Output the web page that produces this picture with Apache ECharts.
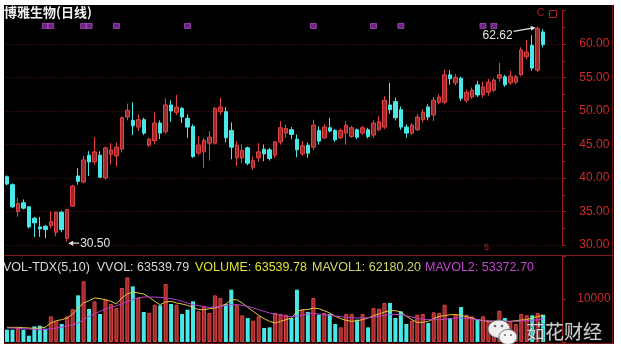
<!DOCTYPE html>
<html><head><meta charset="utf-8">
<script src="https://cdn.jsdelivr.net/npm/echarts@6/dist/echarts.min.js"></script>
<style>html,body{margin:0;padding:0;background:#fff}#c{width:621px;height:349px}</style>
</head><body><div id="c"></div>
<script>
// ---------- DATA ----------
const opens = [40.2,39.0,35.0,36.3,35.7,34.0,32.7,32.8,32.9,31.9,
34.9,31.0,35.8,40.3,39.4,43.4,42.4,43.4,40.0,43.5,
43.3,44.3,49.1,48.6,47.6,48.7,44.9,45.6,48.2,46.9,
50.9,49.8,50.4,48.9,47.7,43.7,43.9,45.2,45.2,49.9,
49.9,47.1,43.0,43.0,44.5,41.6,43.0,44.3,44.2,43.4,
45.4,46.7,47.2,45.8,43.6,44.9,44.6,47.1,46.0,47.5,
47.1,46.0,46.7,46.2,47.2,46.7,47.2,46.4,47.2,47.6,
50.9,51.4,50.2,47.6,46.7,47.2,48.7,50.6,49.4,51.3,
51.3,55.4,54.2,54.9,51.6,52.1,53.9,52.4,52.8,53.1,
54.9,55.1,54.2,54.3,55.4,58.1,59.8,56.1,61.8];
const closes = [39.1,35.7,36.2,35.5,32.7,33.3,32.4,32.3,33.5,34.9,
32.3,35.3,38.8,39.5,42.7,42.4,43.9,40.1,44.5,44.2,
44.6,49.0,50.1,47.8,48.7,46.7,45.8,48.2,46.7,50.9,
50.0,50.6,49.1,47.6,43.2,44.9,45.6,46.1,50.4,50.6,
46.0,44.6,44.9,44.1,42.2,42.6,43.9,43.6,42.9,45.4,
47.5,47.4,46.5,44.2,44.8,43.7,47.9,45.5,47.6,47.0,
45.7,47.1,47.9,47.5,46.1,47.5,46.2,48.2,48.4,51.6,
50.2,49.0,47.6,46.7,47.9,49.1,49.8,49.1,51.6,52.1,
55.4,54.8,55.0,51.9,52.8,53.1,52.4,53.6,54.3,54.6,
55.4,53.9,55.2,55.1,59.1,58.8,56.4,62.3,59.9];
const lows = [38.9,35.5,34.2,35.3,32.5,31.2,31.2,31.0,32.5,31.3,
31.9,30.5,35.7,39.0,39.2,40.3,42.0,40.0,39.8,42.0,
41.7,43.8,48.6,46.4,47.0,46.4,44.6,45.0,45.8,46.6,
48.4,49.4,48.2,46.0,43.0,43.4,41.5,42.6,45.0,49.4,
45.3,42.8,41.8,42.2,41.9,41.2,42.4,42.5,42.6,43.0,
45.0,46.0,45.8,43.1,43.3,43.0,44.2,45.0,45.8,46.8,
45.4,45.8,45.0,46.0,45.8,46.4,45.9,46.0,47.0,47.3,
49.6,48.6,47.2,46.0,46.4,47.0,48.3,48.6,48.5,51.0,
51.0,53.9,53.8,51.5,51.2,51.8,52.1,52.0,52.3,52.8,
54.4,53.6,53.9,54.0,55.2,57.7,56.0,55.8,59.5];
const highs = [40.4,39.2,37.0,36.8,35.8,34.2,34.2,33.0,35.0,35.0,
35.1,35.3,39.0,41.5,43.3,44.0,46.1,44.0,44.7,45.2,
45.3,49.2,51.1,51.3,49.5,49.0,46.0,49.8,48.6,51.9,
51.6,52.4,50.6,49.5,48.0,46.2,46.0,47.0,50.6,52.0,
50.6,48.3,45.5,45.0,44.7,43.2,45.2,45.0,44.5,45.5,
48.5,48.0,47.6,46.5,45.5,45.3,48.7,47.7,48.0,49.0,
47.3,47.4,48.5,47.8,47.4,47.8,47.5,48.6,49.3,52.2,
54.2,52.0,50.7,48.0,48.2,49.6,50.3,51.0,52.1,52.5,
56.2,56.1,55.5,55.1,53.2,53.5,54.5,54.4,54.8,54.9,
57.2,55.4,56.0,55.4,59.5,60.6,61.3,62.62,62.2];
const volumes = [2870,2870,3255,2870,1470,3640,3800,3100,5970,4805,
4185,5970,7670,10850,14100,7670,9455,6510,9840,8835,
7900,12555,15035,12940,10385,6975,6740,8680,8525,13485,
8835,8680,6510,7520,9455,7130,8290,6740,10850,10230,
8835,12170,8680,6200,5580,4960,5970,3255,3410,6740,
6510,6355,5580,12170,7520,7000,10230,6355,6740,6510,
4185,3410,6510,6510,5190,6510,3410,7900,7750,9070,
9070,5580,7130,4185,4960,6355,6510,4420,6900,6740,
8680,5580,6510,8140,6355,5970,5190,5970,4805,4420,
7285,5580,4805,4185,6510,6200,6200,6740,6354];
const mavol1 = [3410,3410,3410,3330,3255,3180,3255,3410,4420,4960,
5190,5580,6510,7900,9070,9610,10230,10075,9840,9455,
8835,10230,11160,11625,11390,11160,10385,9455,8680,9300,
9455,9070,8835,8525,8060,7520,7520,7750,7900,8290,
8835,9840,9840,9070,8060,7130,6200,5425,4805,4420,
4805,5190,5580,7130,7520,
7520,7900,7750,7285,6740,5970,5425,5040,4805,4960,
5190,5580,6120,6510,6975,7285,7285,6975,5970,5190,
4570,4570,4805,5425,5970,6120,6355,6355,6200,5890,
5580,5190,4960,4805,4805,4805,4805,4805,4960,5115,
5190,5600,5900,6218];
const mavol2 = [3255,3255,3180,3100,3020,2945,2870,2870,3100,3255,
3410,3800,4030,4420,5190,5970,6510,7130,7670,8060,
8450,8835,9455,9840,10230,10460,10460,10460,10385,10230,
10075,9840,9455,9070,8680,8450,8215,8060,8140,8290,
8525,8680,8680,8525,8290,7900,7520,7130,6740,6510,
6200,5970,5890,6045,6200,
6510,6665,6510,6355,6200,6045,5890,5735,5660,5580,
5580,5660,5815,5970,6200,6355,6430,6355,6120,5815,
5500,5270,5190,5190,5190,5270,5425,5580,5580,5500,
5350,5190,5040,4960,4880,4805,4805,4805,4805,4880,
4960,5040,5190,5337];
const signalDays = [7,8,14,15,20,33,56,67,72,87,89];
const priceTicks = [30,35,40,45,50,55,60];
const volTicks = [10000];
const days = opens.map((_, i) => 'D' + (i + 1));
const highIdx = 97, highVal = 62.62;
const lowIdx = 11, lowVal = 30.50;

// ---------- STYLE ----------
const RED = '#e04444', RED_FILL = '#9c2a2a', CYAN = '#48e8e8';
const AXIS = '#a01c1c', LBL = '#cc2a2a';
const chart = echarts.init(document.getElementById('c'), null, {renderer:'canvas', width:621, height:349});
const candleData = opens.map((o, i) => [o, closes[i], lows[i], highs[i]]);
const volData = volumes.map((v, i) => ({
  value: v,
  itemStyle: closes[i] >= opens[i] ? {color: RED_FILL, borderColor: RED, borderWidth: 1} : {color: CYAN, borderColor: CYAN, borderWidth: 0}
}));
const signalLevel = 62.7;
const axisCommon = (gi) => ({type:'category', data: days, gridIndex: gi, max: days.length + 2, boundaryGap: true, show: false});

chart.setOption({
  animation: false,
  backgroundColor: '#000000',
  grid: [
    {left: 4.27, top: 10.5, width: 558, height: 234.5},
    {left: 4.27, top: 256, width: 558, height: 86}
  ],
  xAxis: [axisCommon(0), axisCommon(1)],
  yAxis: [
    {gridIndex: 0, position: 'right', min: 30, max: 65, interval: 5, scale: true,
     axisLine: {show: true, lineStyle: {color: AXIS, width: 1}},
     axisTick: {show: true, length: 4, lineStyle: {color: AXIS}},
     minorTick: {show: true, splitNumber: 2, length: 3, lineStyle: {color: AXIS}},
     axisLabel: {margin: 17, color: LBL, fontSize: 12, fontFamily: 'Liberation Sans, Arial',
       formatter: v => priceTicks.indexOf(v) >= 0 ? v.toFixed(2) : ''},
     splitLine: {show: true, showMaxLine: false, lineStyle: {color: '#5a1616', type: [1, 2], width: 1}}
    },
    {gridIndex: 1, position: 'right', min: 0, max: 20000, interval: 10000,
     axisLine: {show: true, lineStyle: {color: AXIS, width: 1}},
     axisTick: {show: true, length: 4, lineStyle: {color: AXIS}},
     axisLabel: {margin: 15, color: LBL, fontSize: 12, fontFamily: 'Liberation Sans, Arial',
       formatter: v => volTicks.indexOf(v) >= 0 ? String(v) : ''},
     splitLine: {show: false}
    }
  ],
  series: [
    {type: 'candlestick', xAxisIndex: 0, yAxisIndex: 0, data: candleData, barWidth: 4,
     itemStyle: {color: RED_FILL, color0: CYAN, borderColor: RED, borderColor0: CYAN, borderWidth: 1}},
    {type: 'scatter', xAxisIndex: 0, yAxisIndex: 0, symbol: 'rect', symbolSize: [6, 5],
     data: signalDays.map(d => [d, signalLevel]),
     itemStyle: {color: '#8a2aa6', borderColor: '#c060d8', borderWidth: 0.8}},
    {type: 'bar', xAxisIndex: 1, yAxisIndex: 1, data: volData, barWidth: 4},
    {type: 'line', xAxisIndex: 1, yAxisIndex: 1, data: mavol1, showSymbol: false, symbol: 'none',
     lineStyle: {color: '#e6c83c', width: 1}},
    {type: 'line', xAxisIndex: 1, yAxisIndex: 1, data: mavol2, showSymbol: false, symbol: 'none',
     lineStyle: {color: '#b83ed0', width: 1}}
  ]
});

// ---------- annotations ----------
const ph = chart.convertToPixel({gridIndex: 0}, [highIdx, highVal]);
const pl = chart.convertToPixel({gridIndex: 0}, [lowIdx, lowVal]);
function arrow(x1, y1, x2, y2, col) {
  const ang = Math.atan2(y2 - y1, x2 - x1), L = 5, W = 2.5;
  const bx = x2 - L * Math.cos(ang), by = y2 - L * Math.sin(ang);
  const nx = -Math.sin(ang) * W, ny = Math.cos(ang) * W;
  return [
    {type: 'line', z: 50, shape: {x1, y1, x2: bx, y2: by}, style: {stroke: col, lineWidth: 1.2}},
    {type: 'polygon', z: 50, shape: {points: [[x2, y2], [bx + nx, by + ny], [bx - nx, by - ny]]}, style: {fill: col}}
  ];
}
const TXT = '#e6e6e6';
const FONT = '12px "Liberation Sans", Arial, sans-serif';
const g = [];
// frame lines
g.push({type: 'line', z: 40, shape: {x1: 4, y1: 255.5, x2: 614, y2: 255.5}, style: {stroke: '#7a1616', lineWidth: 1}});
g.push({type: 'line', z: 40, shape: {x1: 612.5, y1: 5, x2: 612.5, y2: 344}, style: {stroke: '#7a1616', lineWidth: 1}});
g.push({type: 'line', z: 40, shape: {x1: 4, y1: 343.5, x2: 614, y2: 343.5}, style: {stroke: '#7a1616', lineWidth: 1}});
// title
g.push({type: 'text', z: 60, left: 4, top: 6, style: {text: '博雅生物(日线)', fill: '#f2f2f2', font: 'bold 13px "Noto Sans CJK SC", sans-serif'}});
// top-right small icons
g.push({type: 'text', z: 60, left: 537, top: 8, style: {text: 'C', fill: '#b02222', font: '10px "Liberation Sans", Arial'}});
g.push({type: 'rect', z: 60, shape: {x: 549.5, y: 10.5, width: 7, height: 7}, style: {fill: 'none', stroke: '#b02222', lineWidth: 1}});
// high label
g.push(...arrow(ph[0] - 24, ph[1] + 5, ph[0] - 2, ph[1] + 1, TXT));
g.push({type: 'text', z: 60, x: ph[0] - 25, y: ph[1] + 9, style: {text: highVal.toFixed(2), fill: TXT, font: FONT, align: 'right', verticalAlign: 'middle'}});
// low label
g.push(...arrow(pl[0] + 12, pl[1] + 1.5, pl[0] + 1, pl[1] + 1.5, TXT));
g.push({type: 'text', z: 60, x: pl[0] + 13, y: pl[1] + 2, style: {text: lowVal.toFixed(2), fill: TXT, font: FONT, align: 'left', verticalAlign: 'middle'}});
// small red 5
g.push({type: 'text', z: 60, left: 484, top: 243, style: {text: '5', fill: '#c02020', font: '9px "Liberation Sans", Arial'}});
// volume header
const VF = '12.5px "Liberation Sans", Arial, sans-serif';
g.push({type: 'text', z: 60, x: 3, y: 268, style: {text: 'VOL-TDX(5,10)  VVOL: 63539.79', fill: '#d8d8d8', font: VF, verticalAlign: 'middle'}});
g.push({type: 'text', z: 60, x: 195, y: 268, style: {text: 'VOLUME: 63539.78', fill: '#e2e232', font: VF, verticalAlign: 'middle'}});
g.push({type: 'text', z: 60, x: 312, y: 268, style: {text: 'MAVOL1: 62180.20', fill: '#d6d66a', font: VF, verticalAlign: 'middle'}});
g.push({type: 'text', z: 60, x: 425, y: 268, style: {text: 'MAVOL2: 53372.70', fill: '#c044cc', font: VF, verticalAlign: 'middle'}});
// watermark
g.push({type: 'ellipse', z: 70, shape: {cx: 499, cy: 329, rx: 11, ry: 9}, style: {fill: '#eeeeee', stroke: '#666', lineWidth: 1}});
g.push({type: 'ellipse', z: 71, shape: {cx: 508, cy: 337, rx: 9, ry: 7.5}, style: {fill: '#f4f4f4', stroke: '#777', lineWidth: 1}});
g.push({type: 'circle', z: 72, shape: {cx: 495, cy: 326, r: 1.3}, style: {fill: '#666'}});
g.push({type: 'circle', z: 72, shape: {cx: 502, cy: 326, r: 1.3}, style: {fill: '#666'}});
g.push({type: 'circle', z: 72, shape: {cx: 505, cy: 335, r: 1.1}, style: {fill: '#777'}});
g.push({type: 'circle', z: 72, shape: {cx: 511, cy: 335, r: 1.1}, style: {fill: '#777'}});
g.push({type: 'text', z: 70, x: 526, y: 332, style: {text: '茹花财经', fill: 'rgba(225,225,225,0.9)', stroke: 'rgba(40,40,40,0.6)', lineWidth: 1, font: '19px "Noto Sans CJK SC", sans-serif', verticalAlign: 'middle'}});
// white page margins
g.push({type: 'rect', z: 100, shape: {x: 0, y: 0, width: 621, height: 5}, style: {fill: '#fff'}});
g.push({type: 'rect', z: 100, shape: {x: 0, y: 0, width: 4, height: 349}, style: {fill: '#fff'}});
g.push({type: 'rect', z: 100, shape: {x: 614, y: 0, width: 7, height: 349}, style: {fill: '#fff'}});
g.push({type: 'rect', z: 100, shape: {x: 0, y: 344, width: 621, height: 5}, style: {fill: '#fff'}});
chart.setOption({graphic: g});
</script></body></html>
